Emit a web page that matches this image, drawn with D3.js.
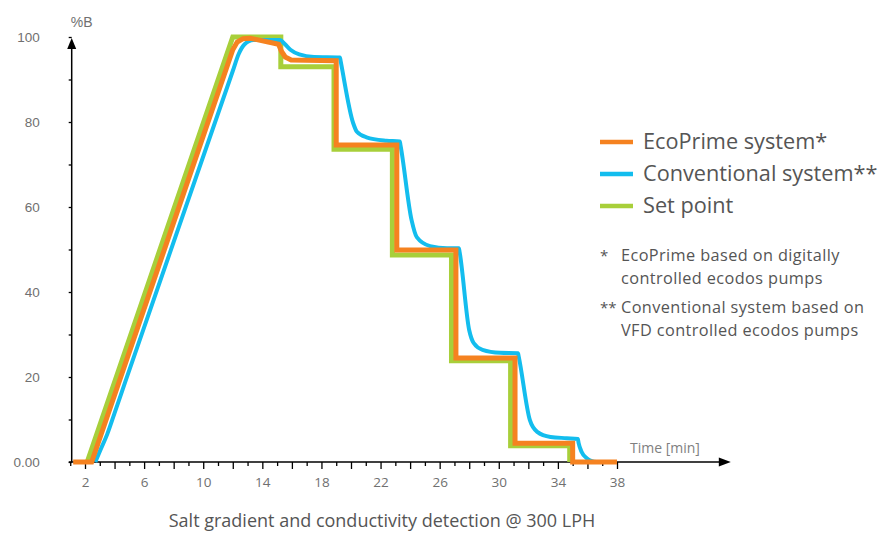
<!DOCTYPE html>
<html>
<head>
<meta charset="utf-8">
<title>Salt gradient</title>
<script src="https://cdn.jsdelivr.net/npm/d3@7"></script>
<style>
  body { margin: 0; background: #fff; }
  text { font-family: "Open Sans", sans-serif; }
  .axis .domain { display: none; }
  .axis line { stroke: #000; stroke-width: 1.3; }
  .axis text { fill: #707070; }
</style>
</head>
<body>
<svg id="svg" width="884" height="534"></svg>
<script>
// set point (green)
var setTime  = [2.15, 12.0, 15.25, 15.25, 18.85, 18.85, 22.8, 22.8, 26.8, 26.8, 30.8, 30.8, 34.8, 34.8];
var setValue = [0, 100, 100, 93, 93, 73.6, 73.6, 48.7, 48.7, 23.8, 23.8, 3.8, 3.8, 0];

// EcoPrime system (orange)
var ecoTime  = [1.2, 2.45, 12.0, 12.3, 12.7, 13.2, 15.1, 15.3, 15.55, 15.95, 19.0, 19.0, 23.1, 23.1, 27.1, 27.1, 31.1, 31.1, 35.0, 35.0, 38.0];
var ecoValue = [0, 0, 97.0, 98.8, 99.6, 99.7, 98.3, 96.6, 95.3, 94.6, 94.4, 74.6, 74.6, 49.9, 49.9, 24.5, 24.5, 4.4, 4.4, 0, 0];

// Conventional system (blue)
var convTime  = [2.7, 3.0, 3.5, 4.0, 4.7, 12.0, 12.4, 12.8, 13.4, 15.2, 15.5, 15.9, 16.5, 17.5, 19.25, 19.3, 20.15, 20.4, 21.05, 22.4, 23.3, 23.35, 24.1, 24.45, 25.35, 26.5, 27.3, 27.35, 28.0, 28.3, 28.9, 30.1, 31.3, 31.35, 32.1, 32.6, 33.5, 34.6, 35.35, 35.4, 35.6, 35.95, 36.3, 36.6];
var convValue = [0, 2.5, 6.5, 11.5, 18.6, 92.0, 96.0, 98.3, 99.3, 99.3, 98.4, 97.0, 95.9, 95.3, 95.2, 94.3, 79.7, 77.7, 76.4, 75.6, 75.4, 74.5, 56.9, 52.9, 50.8, 50.3, 50.3, 49.4, 31.0, 28.0, 26.4, 25.7, 25.6, 24.8, 9.9, 7.1, 5.9, 5.6, 5.4, 4.5, 2.4, 0.9, 0.2, 0];

var xLabels = [2, 6, 10, 14, 18, 22, 26, 30, 34, 38];
var yLabels = [0, 20, 40, 60, 80, 100];

var legendNames  = ["EcoPrime system*", "Conventional system**", "Set point"];
var legendColors = ["#f58220", "#13bdee", "#a8cf3a"];

var svg = d3.select("#svg");

var x = d3.scaleLinear().domain([2, 38]).range([85, 617]);
var y = d3.scaleLinear().domain([0, 100]).range([462, 37]);

var axisX0 = x(1.1);      // where the y axis stands
var xEnd = 45.7;          // x arrow tip

// x axis
var xAxis = d3.axisBottom(x)
    .tickValues(d3.range(1, 39))
    .tickSize(7)
    .tickPadding(6)
    .tickFormat(function (d) { return xLabels.indexOf(d) >= 0 ? d : ""; });

var gx = svg.append("g")
    .attr("class", "x axis")
    .attr("transform", "translate(0," + y(0) + ")")
    .call(xAxis);
gx.selectAll(".tick line").attr("y2", function (d) { return d % 2 === 0 ? 7 : 4; });
gx.selectAll(".tick text").style("font-size", "13.5px").attr("dy", "0.9em");

svg.append("line")
    .attr("x1", x(0.9)).attr("x2", x(xEnd) - 6)
    .attr("y1", y(0)).attr("y2", y(0))
    .attr("stroke", "#000").attr("stroke-width", 1.5);
svg.append("path")
    .attr("d", "M" + x(xEnd) + "," + y(0) + "l-12,-4.5l0,9z")
    .attr("fill", "#000");

// y axis
var yAxis = d3.axisLeft(y)
    .tickValues(d3.range(0, 101, 10))
    .tickSize(3)
    .tickPadding(29)
    .tickFormat(function (d) { return yLabels.indexOf(d) >= 0 ? (d === 0 ? "0.00" : d) : ""; });

var gy = svg.append("g")
    .attr("class", "y axis")
    .attr("transform", "translate(" + axisX0 + ",0)")
    .call(yAxis);
gy.selectAll(".tick text")
    .style("font-family", "'Liberation Sans', sans-serif")
    .style("font-size", "13.5px")
    .attr("dy", "0.3em");

svg.append("line")
    .attr("x1", axisX0).attr("x2", axisX0)
    .attr("y1", y(0)).attr("y2", y(100) + 6)
    .attr("stroke", "#000").attr("stroke-width", 1.5);
svg.append("path")
    .attr("d", "M" + axisX0 + "," + (y(100) + 1) + "l-4.5,11l9,0z")
    .attr("fill", "#000");

svg.append("text")
    .attr("x", axisX0 - 1).attr("y", 27)
    .style("font-family", "'Liberation Sans', sans-serif")
    .style("font-size", "14px")
    .attr("fill", "#707070")
    .text("%B");

svg.append("text")
    .attr("x", 630).attr("y", 453)
    .style("font-size", "14px")
    .attr("fill", "#808080")
    .text("Time [min]");

// lines
var line = d3.line().x(function (d) { return x(d[0]); }).y(function (d) { return y(d[1]); });
var curved = d3.line().x(function (d) { return x(d[0]); }).y(function (d) { return y(d[1]); }).curve(d3.curveMonotoneX);

svg.append("path")
    .datum(d3.zip(setTime, setValue))
    .attr("d", line)
    .attr("fill", "none")
    .attr("stroke", legendColors[2])
    .attr("stroke-width", 5)
    .attr("stroke-linejoin", "miter");

svg.append("path")
    .datum(d3.zip(convTime, convValue))
    .attr("d", curved)
    .attr("fill", "none")
    .attr("stroke", legendColors[1])
    .attr("stroke-width", 4)
    .attr("stroke-linejoin", "round");

svg.append("path")
    .datum(d3.zip(ecoTime, ecoValue))
    .attr("d", line)
    .attr("fill", "none")
    .attr("stroke", legendColors[0])
    .attr("stroke-width", 5)
    .attr("stroke-linejoin", "miter");

// legend
var legend = svg.append("g").attr("transform", "translate(600,142)");
legendNames.forEach(function (name, i) {
    var row = legend.append("g").attr("transform", "translate(0," + (i * 32) + ")");
    row.append("line")
        .attr("x1", 0).attr("x2", 33)
        .attr("stroke", legendColors[i])
        .attr("stroke-width", 4.5);
    row.append("text")
        .attr("x", 43).attr("y", 6.5)
        .style("font-size", "21.7px")
        .attr("fill", "#555")
        .text(name);
});

// footnotes
var notes = [["*", "EcoPrime based on digitally", 261], ["", "controlled ecodos pumps", 284],
             ["**", "Conventional system based on", 313], ["", "VFD controlled ecodos pumps", 336]];
notes.forEach(function (n) {
    svg.append("text").attr("x", 600).attr("y", n[2])
        .style("font-size", "15px").attr("fill", "#555").text(n[0]);
    svg.append("text").attr("x", 621).attr("y", n[2])
        .style("font-size", "16.3px").style("letter-spacing", "0.4px")
        .attr("fill", "#555").text(n[1]);
});

svg.append("text")
    .attr("x", 382).attr("y", 527)
    .attr("text-anchor", "middle")
    .style("font-size", "18px")
    .attr("fill", "#555")
    .text("Salt gradient and conductivity detection @ 300 LPH");
</script>
</body>
</html>
